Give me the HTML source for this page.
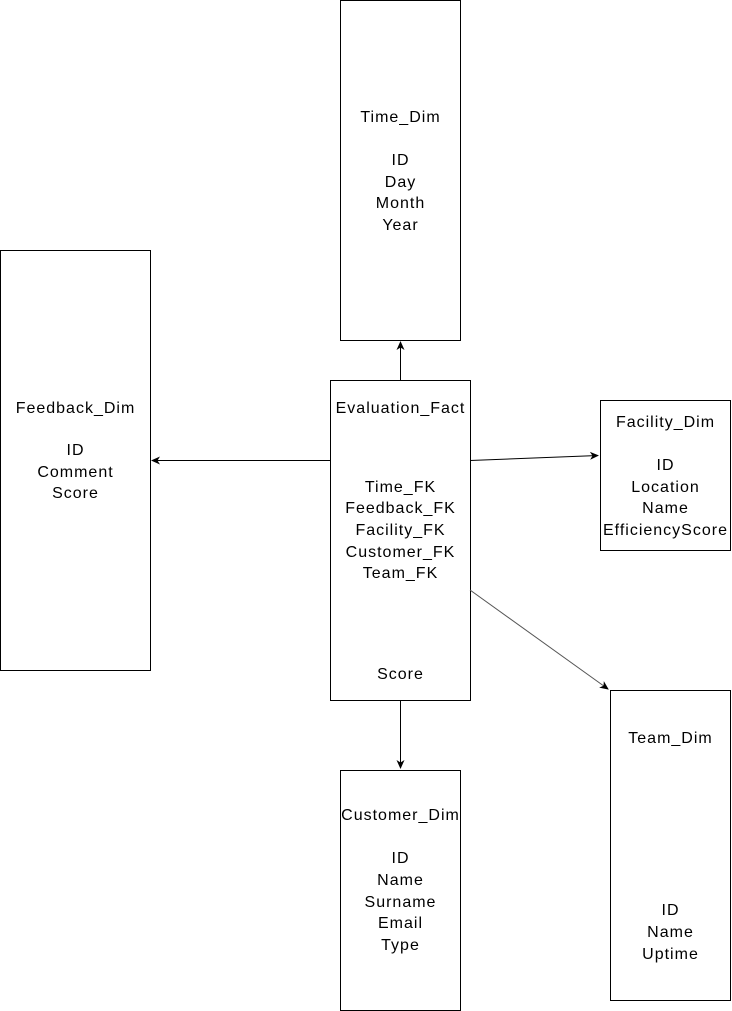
<!DOCTYPE html>
<html><head><meta charset="utf-8"><style>body{margin:0;background:#fff}svg{display:block}text{font-family:"Liberation Sans",Arial,sans-serif;font-size:16px;letter-spacing:1px;fill:#000;text-anchor:middle}</style></head><body>
<svg width="732" height="1011" viewBox="0 0 732 1011">
<defs><marker id="a" markerWidth="10" markerHeight="10" refX="8" refY="5" orient="auto" markerUnits="userSpaceOnUse"><path d="M0,1 L9,5 L0,9 L2.5,5 Z" fill="#000"/></marker></defs>
<g fill="#fff" stroke="#000" stroke-width="1">
<rect x="340.5" y="0.5" width="120" height="340"/>
<rect x="0.5" y="250.5" width="150" height="420"/>
<rect x="330.5" y="380.5" width="140" height="320"/>
<rect x="600.5" y="400.5" width="130" height="150"/>
<rect x="610.5" y="690.5" width="120" height="310"/>
<rect x="340.5" y="770.5" width="120" height="240"/>
</g>
<g stroke-width="1" fill="none">
<line x1="400.5" y1="380" x2="400.5" y2="342" stroke="#000" marker-end="url(#a)"/>
<line x1="330" y1="460.5" x2="152" y2="460.5" stroke="#000" marker-end="url(#a)"/>
<line x1="470" y1="460.5" x2="598" y2="455.5" stroke="#000" marker-end="url(#a)"/>
<line x1="400.5" y1="700" x2="400.5" y2="768" stroke="#000" marker-end="url(#a)"/>
<line x1="470" y1="590" x2="608" y2="689" stroke="#555" marker-end="url(#a)"/>
</g>
<g transform="translate(0.5,0)">
<text x="400" y="122">Time_Dim</text><text x="400" y="165">ID</text><text x="400" y="187">Day</text><text x="400" y="208">Month</text><text x="400" y="230">Year</text>
<text x="75" y="413">Feedback_Dim</text><text x="75" y="455">ID</text><text x="75" y="477">Comment</text><text x="75" y="498">Score</text>
<text x="400" y="413">Evaluation_Fact</text><text x="400" y="492">Time_FK</text><text x="400" y="513">Feedback_FK</text><text x="400" y="535">Facility_FK</text><text x="400" y="557">Customer_FK</text><text x="400" y="578">Team_FK</text><text x="400" y="679">Score</text>
<text x="665" y="427">Facility_Dim</text><text x="665" y="470">ID</text><text x="665" y="492">Location</text><text x="665" y="513">Name</text><text x="665" y="535">EfficiencyScore</text>
<text x="670" y="743">Team_Dim</text><text x="670" y="915">ID</text><text x="670" y="937">Name</text><text x="670" y="959">Uptime</text>
<text x="400" y="820">Customer_Dim</text><text x="400" y="863">ID</text><text x="400" y="885">Name</text><text x="400" y="907">Surname</text><text x="400" y="928">Email</text><text x="400" y="950">Type</text>
</g>
</svg></body></html>
